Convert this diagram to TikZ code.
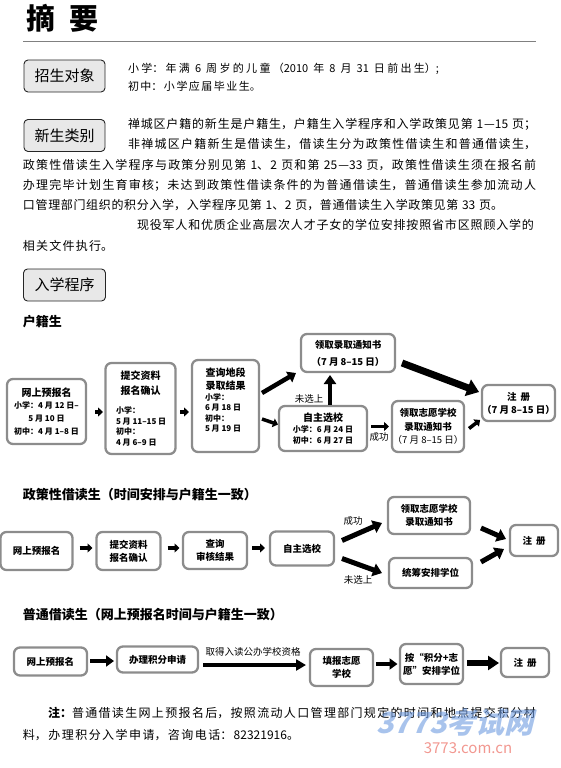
\documentclass[tikz,border=0pt]{standalone}
\usepackage{fontspec}
\setmainfont{Noto Sans CJK SC}
\newfontfamily\wmfont[FakeSlant=0.25]{Noto Sans CJK SC}
\usetikzlibrary{arrows.meta,calc}
\definecolor{wmblue}{HTML}{6E9BE0}
\definecolor{wmred}{HTML}{F08C84}
\newcommand\jl[2]{\parbox{#1}{\XeTeXlinebreaklocale "zh"\XeTeXlinebreakskip=0pt plus 1fil\spaceskip=.25em plus 1fil\parfillskip=0pt\relax #2}}
\tikzset{
  hdr/.style={draw=black!85, line width=0.9pt, rounded corners=4pt, fill=black!9,
    font=\fontsize{15}{15}\selectfont, minimum width=81pt, minimum height=32pt},
  fb/.style={draw=black!45, line width=2.3pt, rounded corners=6pt, fill=white, align=center,
    font=\bfseries\fontsize{9.5}{13}\selectfont},
  dt/.style={font=\bfseries\fontsize{8}{10.8}\selectfont, align=left},
  lbl/.style={font=\fontsize{9.5}{11}\selectfont},
  sec/.style={anchor=west, font=\bfseries\fontsize{13}{13}\selectfont},
  body/.style={anchor=west, font=\fontsize{12}{14}\selectfont},
  sarr/.style={line width=3.5pt, -{Triangle[length=5pt,width=9pt]}},
  marr/.style={line width=4.5pt, -{Triangle[length=8pt,width=12pt]}},
  barr/.style={line width=7pt, -{Triangle[length=12pt,width=17pt]}},
}
\begin{document}
\begin{tikzpicture}[x=1pt,y=-1pt, every node/.style={inner sep=0pt, outer sep=0pt}]
\useasboundingbox (0,0) rectangle (560,768);

% ---- header ----
\node[anchor=west] (title) at (26,18) {\fontsize{29}{29}\selectfont\bfseries 摘\hspace{15pt}要};
\coordinate (rl) at (23,42);
\coordinate (rr) at (536,42);
\draw[black!50, line width=1pt] (rl) -- (rr);

\node[hdr] (h1) at (64.5,76) {招生对象};
\node[anchor=west, font=\fontsize{11}{13}\selectfont] (t1) at (128,69) {\jl{311pt}{小学：年满 6 周岁的儿童（2010 年 8 月 31 日前出生）;}};
\node[anchor=west, font=\fontsize{11}{13}\selectfont] (t2) at (128,86) {\jl{133pt}{初中：小学应届毕业生。}};

\node[hdr] (h2) at (64.5,135.5) {新生类别};
\node[body] (p1) at (128,124) {\jl{408pt}{禅城区户籍的新生是户籍生，户籍生入学程序和入学政策见第 1—15 页；}};
\node[body] (p2) at (128,144) {\jl{408pt}{非禅城区户籍新生是借读生，借读生分为政策性借读生和普通借读生，}};
\node[body] (p3) at (23,165) {\jl{513pt}{政策性借读生入学程序与政策分别见第 1、2 页和第 25—33 页，政策性借读生须在报名前}};
\node[body] (p4) at (23,185) {\jl{513pt}{办理完毕计划生育审核；未达到政策性借读条件的为普通借读生，普通借读生参加流动人}};
\node[body] (p5) at (23,205) {\jl{480pt}{口管理部门组织的积分入学，入学程序见第 1、2 页，普通借读生入学政策见第 33 页。}};
\node[body] (p6) at (137,225) {\jl{397pt}{现役军人和优质企业高层次人才子女的学位安排按照省市区照顾入学的}};
\node[body] (p7) at (23,246) {\jl{90pt}{相关文件执行。}};

\node[hdr, minimum width=82pt] (h3) at (64.5,285) {入学程序};

% ---- 户籍生 ----
\node[sec] (s1) at (23,322) {户籍生};

\node[fb, minimum width=79pt, minimum height=65pt] (b1) at (46.5,411.5)
  {{\fontsize{10}{12.5}\selectfont 网上预报名}\\[-1pt]{\fontsize{8}{12.5}\selectfont 小学：4 月 12 日–}\\{\fontsize{8}{12.5}\selectfont 5 月 10 日}\\{\fontsize{8}{12.5}\selectfont 初中：4 月 1–8 日}};

\node[fb, minimum width=70pt, minimum height=91pt] (b2) at (140.5,408.5) {};
\node[fb, draw=none, fill=none, font=\bfseries\fontsize{10}{15}\selectfont] (b2h) at (140.5,383.5) {提交资料\\报名确认};
\node[dt, anchor=west] (b2d) at (116,426.5) {小学：\\5 月 11–15 日\\初中：\\4 月 6–9 日};

\node[fb, minimum width=67pt, minimum height=92pt] (b3) at (225.5,406) {};
\node[fb, draw=none, fill=none, font=\bfseries\fontsize{10}{13}\selectfont] (b3h) at (225.5,379.5) {查询地段\\录取结果};
\node[dt, anchor=west, font=\bfseries\fontsize{8}{10.5}\selectfont] (b3d) at (205,413) {小学：\\6 月 18 日\\初中：\\5 月 19 日};

\node[fb, minimum width=94pt, minimum height=38pt, font=\bfseries\fontsize{9.5}{17}\selectfont] (b4) at (348,353) {领取录取通知书\\（7 月 8–15 日）};
\node[fb, minimum width=88pt, minimum height=45pt, font=\bfseries\fontsize{8}{11}\selectfont] (b5) at (323,428.5) {{\fontsize{10}{11}\selectfont 自主选校}\\小学：6 月 24 日\\初中：6 月 27 日};
\node[fb, minimum width=72pt, minimum height=51pt, font=\bfseries\fontsize{9.5}{13.5}\selectfont] (b6) at (428,426.5) {领取志愿学校\\录取通知书\\{\mdseries（7 月 8–15 日）}};
\node[fb, minimum width=71pt, minimum height=36pt, font=\bfseries\fontsize{9.5}{13}\selectfont] (b7) at (518.5,403) {注\hspace{4pt}册\\（7 月 8–15 日）};

\draw[sarr, shorten <=9pt, shorten >=2.5pt] (b1.east |- 0,412) -- (b2.west |- 0,412);
\draw[sarr, shorten <=4.5pt, shorten >=3pt] (b2.east |- 0,412) -- (b3.west |- 0,412);
\draw[marr] ($(b3.east)+(3,-13)$) -- ($(b4.south west)+(-5,1)$);
\draw[sarr] ($(b3.east)+(3,13)$) -- ($(b5.west)+(-1,-4)$);
\draw[line width=4.5pt, -{Triangle[length=9pt,width=12pt]}] ($(b5.north)+(7,-1)$) -- ($(b4.south)+(-18,3)$);
\node[lbl] (l1) at (309,399) {未选上};
\draw[sarr] ($(b5.east)+(4,-2)$) -- ($(b6.west)+(-3,0)$);
\node[lbl] (l2) at (379,437) {成功};
\draw[barr] ($(b4.east)+(7,10)$) -- ($(b7.west)+(-3,-11)$);
\draw[sarr] ($(b6.east)+(5,2)$) -- ($(b7.south west)+(-2,-1)$);

% ---- 政策性借读生 ----
\node[sec] (s2) at (23,495) {政策性借读生（时间安排与户籍生一致）};

\node[fb, minimum width=72pt, minimum height=38pt] (c1) at (36.5,551) {网上预报名};
\node[fb, minimum width=64pt, minimum height=38pt] (c2) at (128.5,551) {提交资料\\报名确认};
\node[fb, minimum width=64pt, minimum height=37pt] (c3) at (215,550.5) {查询\\审核结果};
\node[fb, minimum width=64pt, minimum height=34pt] (c4) at (302,548.5) {自主选校};
\node[fb, minimum width=82pt, minimum height=37pt] (c5) at (429,515.5) {领取志愿学校\\录取通知书};
\node[fb, minimum width=83pt, minimum height=30pt] (c6) at (430.5,573) {统筹安排学位};
\node[fb, minimum width=48pt, minimum height=31pt] (c7) at (534,540.5) {注\hspace{4pt}册};

\draw[sarr, shorten <=7pt, shorten >=4pt] (c1.east |- 0,548) -- (c2.west |- 0,548);
\draw[sarr, shorten <=7pt, shorten >=3.5pt] (c2.east |- 0,548) -- (c3.west |- 0,548);
\draw[sarr, shorten <=5pt, shorten >=5pt] (c3.east |- 0,548) -- (c4.west |- 0,548);
\draw[line width=5pt, -{Triangle[length=9pt,width=13pt]}] ($(c4.east)+(8,-8)$) -- ($(c5.west)+(-6,7.5)$);
\draw[line width=5pt, -{Triangle[length=9pt,width=13pt]}] ($(c4.east)+(8,10)$) -- ($(c6.west)+(-7,0)$);
\node[lbl] (l3) at (353,521) {成功};
\node[lbl] (l4) at (358,580) {未选上};
\draw[line width=5pt, -{Triangle[length=9pt,width=13pt]}] ($(c5.east)+(11,12.5)$) -- ($(c7.west)+(-4,-1.5)$);
\draw[line width=5pt, -{Triangle[length=9pt,width=13pt]}] ($(c6.east)+(9,-11)$) -- ($(c7.west)+(-6,8.5)$);

% ---- 普通借读生 ----
\node[sec] (s3) at (23,615) {普通借读生（网上预报名时间与户籍生一致）};

\node[fb, minimum width=73pt, minimum height=28pt] (d1) at (50.5,661.5) {网上预报名};
\node[fb, minimum width=81pt, minimum height=26pt] (d2) at (157.5,659.5) {办理积分申请};
\node[fb, minimum width=63pt, minimum height=37pt] (d3) at (341.5,667.5) {填报志愿\\学校};
\node[fb, minimum width=63pt, minimum height=40pt] (d4) at (431.5,664) {按“积分+志\\愿”安排学位};
\node[fb, minimum width=48pt, minimum height=29pt] (d5) at (525,662.5) {注\hspace{4pt}册};

\draw[line width=3.5pt, -{Triangle[length=8pt,width=11pt]}, shorten <=3pt, shorten >=3pt] (d1.east |- 0,661) -- (d2.west |- 0,661);
\draw[line width=4pt, -{Triangle[length=10pt,width=11pt]}] ($(d2.east)+(5,5.5)$) -- ($(d3.west)+(-4,-2.5)$);
\node[lbl] (l5) at (253,652) {取得入读公办学校资格};
\draw[line width=4pt, -{Triangle[length=8pt,width=11pt]}] ($(d3.east)+(3,-3.5)$) -- ($(d4.west)+(-2.5,0)$);
\draw[line width=6pt, -{Triangle[length=11pt,width=14pt]}] ($(d4.east)+(4,-1)$) -- ($(d5.west)+(-2,0.5)$);

% ---- footer ----
\node[body] (f1) at (48,713) {\jl{488pt}{\textbf{注：}普通借读生网上预报名后，按照流动人口管理部门规定的时间和地点提交积分材}};
\node[body] (f2) at (23,735) {\jl{276pt}{料，办理积分入学申请，咨询电话：82321916。}};

% ---- watermark ----
\node[text=wmblue, opacity=0.6] (wm1) at (455,722) {\wmfont\bfseries\fontsize{29}{29}\selectfont 3773考试网};
\node[text=wmred, opacity=0.9] (wm2) at (468,748) {\fontsize{15}{15}\selectfont 3773.com.cn};
\end{tikzpicture}
\end{document}
